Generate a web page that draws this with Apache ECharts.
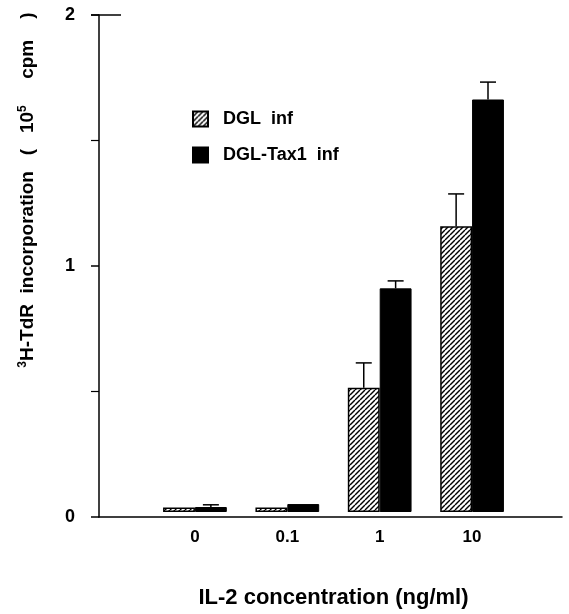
<!DOCTYPE html>
<html><head><meta charset="utf-8">
<script src="https://cdn.jsdelivr.net/npm/echarts@6/dist/echarts.min.js"></script>
<style>html,body{margin:0;padding:0;background:#fff}#c{width:569px;height:614px}</style>
</head><body><div id="c"></div>
<script>
// ---- data ----
const categories = ['0', '0.1', '1', '10'];
const seriesNames = ['DGL  inf', 'DGL-Tax1  inf'];
const dglInf = [0.018, 0.018, 0.50, 1.15];
const dglInfErr = [0, 0, 0.10, 0.13];
const dglTaxInf = [0.02, 0.032, 0.90, 1.66];
const dglTaxInfErr = [0.009, 0, 0.03, 0.07];
const yMin = 0, yMax = 2, yStep = 1;

// hatch pattern
function hatch() {
  const s = 5, c = document.createElement('canvas');
  c.width = s; c.height = s;
  const g = c.getContext('2d');
  g.fillStyle = '#fff'; g.fillRect(0, 0, s, s);
  g.strokeStyle = '#000'; g.lineWidth = 1.4;
  for (const k of [-s, 0, s]) {
    g.beginPath(); g.moveTo(k, s); g.lineTo(k + s, 0); g.stroke();
  }
  return c;
}
const hatchFill = { image: hatch(), repeat: 'repeat' };

const font = 'Liberation Sans, Arial, sans-serif';
const chart = echarts.init(document.getElementById('c'), null, { renderer: 'canvas' });

function errItem(sign) {
  return function (params, api) {
    const err = api.value(2);
    if (!(err > 0)) return null;
    const base = api.coord([api.value(0), api.value(1)]);
    const top = api.coord([api.value(0), api.value(1) + err]);
    const band = api.size([1, 0])[0];
    const bw = band * (1 - 0.31) / 2;
    const x = base[0] + sign * bw / 2;
    const cap = 8;
    return {
      type: 'group',
      children: [
        { type: 'line', shape: { x1: x, y1: base[1], x2: x, y2: top[1] }, style: { stroke: '#000', lineWidth: 1.5 } },
        { type: 'line', shape: { x1: x - cap, y1: top[1], x2: x + cap, y2: top[1] }, style: { stroke: '#000', lineWidth: 1.5 } }
      ]
    };
  };
}

const option = {
  animation: false,
  backgroundColor: '#fff',
  grid: [
    { left: 99, right: 7, top: 15, bottom: 97 },
    { left: 148.75, right: 50.75, top: 15, bottom: 97 }
  ],
  legend: {
    data: seriesNames,
    orient: 'vertical',
    left: 192, top: 110, padding: 0,
    itemWidth: 15, itemHeight: 15, itemGap: 18,
    icon: 'rect',
    textStyle: { fontFamily: font, fontWeight: 'bold', fontSize: 18, color: '#000', padding: [0, 0, 0, 10] }
  },
  xAxis: [
    { gridIndex: 0, type: 'value', min: 0, max: 1, axisLine: { show: true, lineStyle: { color: '#000', width: 1.5 } },
      axisTick: { show: false }, axisLabel: { show: false }, splitLine: { show: false } },
    { gridIndex: 1, type: 'category', data: categories,
      axisLine: { show: false }, axisTick: { show: false },
      axisLabel: { fontFamily: font, fontWeight: 'bold', fontSize: 17, color: '#000', margin: 17 },
      name: 'IL-2 concentration (ng/ml)', nameLocation: 'middle', nameGap: 75,
      nameTextStyle: { fontFamily: font, fontWeight: 'bold', fontSize: 22, color: '#000' } }
  ],
  yAxis: [
    { gridIndex: 0, type: 'value', min: yMin, max: yMax, interval: yStep,
      axisLine: { show: true, lineStyle: { color: '#000', width: 1.5 } },
      axisTick: { show: true, length: 8, lineStyle: { color: '#000', width: 1.5 } },
      minorTick: { show: true, splitNumber: 2, length: 8, lineStyle: { color: '#000', width: 1.2 } },
      axisLabel: { fontFamily: font, fontWeight: 'bold', fontSize: 18, color: '#000', margin: 24 },
      splitLine: { show: false } },
    { gridIndex: 1, type: 'value', min: yMin, max: yMax, interval: yStep, show: false }
  ],
  graphic: [
    { type: 'text', x: 28, y: 190, rotation: Math.PI / 2,
      style: {
        text: '{s|3}H-TdR  incorporation   (   10{s|5}     cpm    )',
        fontFamily: font, fontWeight: 'bold', fontSize: 19, fill: '#000',
        align: 'center', verticalAlign: 'middle',
        rich: { s: { fontSize: 12, fontWeight: 'bold', fontFamily: font, fill: '#000', verticalAlign: 'top', lineHeight: 23 } }
      } }
  ],
  series: [
    { name: seriesNames[0], type: 'bar', xAxisIndex: 1, yAxisIndex: 1, data: dglInf,
      barGap: 0, barCategoryGap: '31%',
      itemStyle: { color: hatchFill, borderColor: '#000', borderWidth: 1.5 } },
    { name: seriesNames[1], type: 'bar', xAxisIndex: 1, yAxisIndex: 1, data: dglTaxInf,
      barGap: 0, barCategoryGap: '31%',
      itemStyle: { color: '#000', borderColor: '#000', borderWidth: 1 } },
    { type: 'custom', xAxisIndex: 1, yAxisIndex: 1, renderItem: errItem(-1), z: 5,
      data: categories.map((c, i) => [i, dglInf[i], dglInfErr[i]]) },
    { type: 'custom', xAxisIndex: 1, yAxisIndex: 1, renderItem: errItem(1), z: 5,
      data: categories.map((c, i) => [i, dglTaxInf[i], dglTaxInfErr[i]]) }
  ]
};
chart.setOption(option);

// short top cap line at y = yMax
const topY = chart.convertToPixel({ yAxisIndex: 0 }, yMax);
const axX = chart.convertToPixel({ xAxisIndex: 0 }, 0);
chart.setOption({ graphic: [ {}, { type: 'line', shape: { x1: axX - 8, y1: topY, x2: axX + 22, y2: topY }, style: { stroke: '#000', lineWidth: 1.5 } } ] });
</script>
</body></html>
